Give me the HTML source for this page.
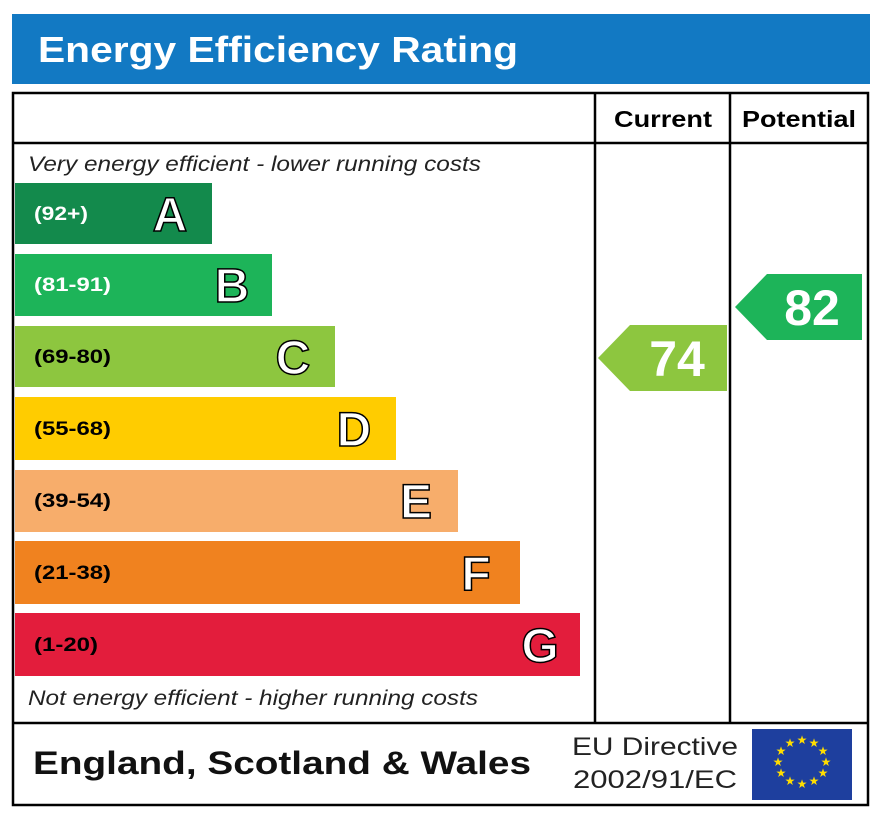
<!DOCTYPE html>
<html><head><meta charset="utf-8"><style>
body{margin:0;background:#fff;}
svg{display:block;font-family:"Liberation Sans",Arial,sans-serif;}
</style></head><body>
<svg width="886" height="813" viewBox="0 0 886 813">
<rect x="12" y="14" width="858" height="70" fill="#1279c3"/>
<text x="38" y="62" font-size="36" font-weight="bold" fill="#fff" textLength="480" lengthAdjust="spacingAndGlyphs">Energy Efficiency Rating</text>
<rect x="13" y="93" width="855" height="712" fill="none" stroke="#000" stroke-width="2.5"/>
<line x1="13" y1="143" x2="868" y2="143" stroke="#000" stroke-width="2.5"/>
<line x1="13" y1="723" x2="868" y2="723" stroke="#000" stroke-width="2.5"/>
<line x1="595" y1="93" x2="595" y2="723" stroke="#000" stroke-width="2.5"/>
<line x1="730" y1="93" x2="730" y2="723" stroke="#000" stroke-width="2.5"/>
<text x="614" y="127" font-size="23" font-weight="bold" textLength="98" lengthAdjust="spacingAndGlyphs">Current</text>
<text x="742" y="127" font-size="23" font-weight="bold" textLength="114" lengthAdjust="spacingAndGlyphs">Potential</text>
<text x="28" y="171" font-size="21" font-style="italic" fill="#222" textLength="453" lengthAdjust="spacingAndGlyphs">Very energy efficient - lower running costs</text>
<text x="28" y="705" font-size="21" font-style="italic" fill="#222" textLength="450" lengthAdjust="spacingAndGlyphs">Not energy efficient - higher running costs</text>
<g font-weight="bold">
<rect x="15" y="183" width="197" height="61" fill="#138a4c"/>
<text x="34" y="220" font-size="19" fill="#fff" textLength="54" lengthAdjust="spacingAndGlyphs">(92+)</text>
<text x="170" y="231" font-size="48" fill="#fff" stroke="#000" stroke-width="1.5" text-anchor="middle">A</text>
<rect x="15" y="254" width="257" height="62" fill="#1db459"/>
<text x="34" y="291" font-size="19" fill="#fff" textLength="77" lengthAdjust="spacingAndGlyphs">(81-91)</text>
<text x="232" y="302" font-size="48" fill="#fff" stroke="#000" stroke-width="1.5" text-anchor="middle">B</text>
<rect x="15" y="326" width="320" height="61" fill="#8dc63f"/>
<text x="34" y="363" font-size="19" fill="#000" textLength="77" lengthAdjust="spacingAndGlyphs">(69-80)</text>
<text x="293" y="374" font-size="48" fill="#fff" stroke="#000" stroke-width="1.5" text-anchor="middle">C</text>
<rect x="15" y="397" width="381" height="63" fill="#ffcc00"/>
<text x="34" y="435" font-size="19" fill="#000" textLength="77" lengthAdjust="spacingAndGlyphs">(55-68)</text>
<text x="354" y="446" font-size="48" fill="#fff" stroke="#000" stroke-width="1.5" text-anchor="middle">D</text>
<rect x="15" y="470" width="443" height="62" fill="#f7ad6b"/>
<text x="34" y="507" font-size="19" fill="#000" textLength="77" lengthAdjust="spacingAndGlyphs">(39-54)</text>
<text x="416" y="518" font-size="48" fill="#fff" stroke="#000" stroke-width="1.5" text-anchor="middle">E</text>
<rect x="15" y="541" width="505" height="63" fill="#f0821f"/>
<text x="34" y="579" font-size="19" fill="#000" textLength="77" lengthAdjust="spacingAndGlyphs">(21-38)</text>
<text x="476" y="590" font-size="48" fill="#fff" stroke="#000" stroke-width="1.5" text-anchor="middle">F</text>
<rect x="15" y="613" width="565" height="63" fill="#e31d3c"/>
<text x="34" y="651" font-size="19" fill="#000" textLength="64" lengthAdjust="spacingAndGlyphs">(1-20)</text>
<text x="540" y="662" font-size="48" fill="#fff" stroke="#000" stroke-width="1.5" text-anchor="middle">G</text>
</g>
<polygon points="598,358 630,325 727,325 727,391 630,391" fill="#8dc63f"/>
<text x="677" y="376" font-size="50" font-weight="bold" fill="#fff" text-anchor="middle">74</text>
<polygon points="735,307 767,274 862,274 862,340 767,340" fill="#1db459"/>
<text x="812" y="325" font-size="50" font-weight="bold" fill="#fff" text-anchor="middle">82</text>
<text x="33" y="774" font-size="32" font-weight="bold" fill="#111" textLength="498" lengthAdjust="spacingAndGlyphs">England, Scotland &amp; Wales</text>
<text x="572" y="755" font-size="25" fill="#222" textLength="166" lengthAdjust="spacingAndGlyphs">EU Directive</text>
<text x="573" y="788" font-size="25" fill="#222" textLength="164" lengthAdjust="spacingAndGlyphs">2002/91/EC</text>
<rect x="752" y="729" width="100" height="71" fill="#1e3f9e"/>
<g fill="#ffdd00" font-size="12" text-anchor="middle">
<text x="802" y="744">★</text><text x="814" y="747">★</text><text x="823" y="755">★</text>
<text x="826" y="766">★</text><text x="823" y="777">★</text><text x="814" y="785">★</text>
<text x="802" y="788">★</text><text x="790" y="785">★</text><text x="781" y="777">★</text>
<text x="778" y="766">★</text><text x="781" y="755">★</text><text x="790" y="747">★</text>
</g>
</svg>
</body></html>
